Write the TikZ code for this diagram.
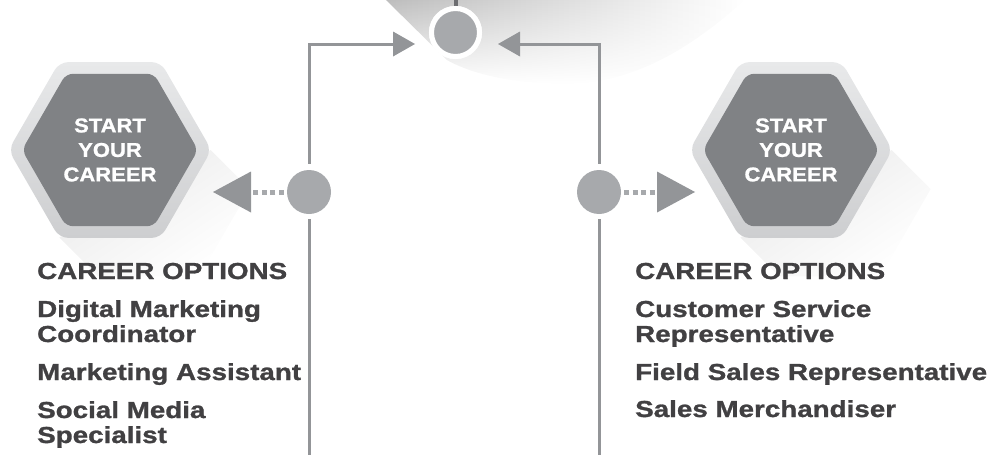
\documentclass[tikz,border=0pt]{standalone}
\usepackage{fontspec}
\setmainfont{Liberation Sans}
\newfontfamily\optfont{Liberation Sans}[FakeStretch=1.2, FakeBold=1.2]
\newfontfamily\hexfont{Liberation Sans}[FakeStretch=1.1, FakeBold=1.0]
\usetikzlibrary{fadings,shapes.geometric,calc}
\definecolor{linegray}{HTML}{939598}
\definecolor{dotgray}{HTML}{A7A9AC}
\definecolor{stubgray}{HTML}{6D6E71}
\definecolor{hexdark}{HTML}{808285}
\definecolor{hexlightA}{HTML}{E8E9EA}
\definecolor{hexlightB}{HTML}{CDCED0}
\definecolor{textgray}{HTML}{414042}
\tikzfading[name=shadowfade, left color=transparent!20, right color=transparent!100]
\tikzfading[name=swooshfade, top color=transparent!0, middle color=transparent!80, bottom color=transparent!100]
\newlength\refw
\begin{document}
\settowidth\refw{\optfont\fontsize{10pt}{12pt}\selectfont\bfseries CAREER OPTIONS}
\pgfmathsetmacro\fsA{10*250/\refw}
\settowidth\refw{\hexfont\fontsize{10pt}{12pt}\selectfont\bfseries CAREER}
\pgfmathsetmacro\fsB{10*93/\refw}
\begin{tikzpicture}[x=1pt,y=-1pt,
  hexouter/.style={regular polygon, regular polygon sides=6, minimum size=203pt, inner sep=0pt,
     rounded corners=9pt, top color=hexlightA, bottom color=hexlightB, draw=none},
  hexinner/.style={regular polygon, regular polygon sides=6, minimum size=176pt, inner sep=0pt,
     rounded corners=7pt, fill=hexdark},
  hextext/.style={text=white, align=center, font=\hexfont\fontsize{\fsB pt}{24.5pt}\selectfont\bfseries, inner sep=0pt},
  opt/.style={anchor=base west, text=textgray, inner sep=0pt, font=\optfont\fontsize{\fsA pt}{25pt}\selectfont\bfseries},
  dotc/.style={circle, fill=dotgray, minimum size=44pt, inner sep=0pt},
  topc/.style={circle, fill=dotgray, draw=white, line width=5pt, minimum size=48pt, inner sep=0pt},
  conn/.style={draw=linegray, line width=3pt},
  dotline/.style={draw=dotgray, line width=5pt, dash pattern=on 5pt off 3.5pt},
  tri/.style={fill=linegray}
]
\useasboundingbox (0,0) rectangle (996,455);

% background swoosh
\shade[left color=black!26, right color=white, path fading=swooshfade]
  (386,0) -- (447,60) .. controls (475,76) and (520,84) .. (565,84)
  .. controls (640,84) and (700,40) .. (745,0) -- cycle;

% hexagon shadows
\fill[black!10, path fading=shadowfade, fading angle=-45]
  (211,150) -- (250,189) -- (199.5,276.5) -- (98.5,276.5) -- (59.5,237.5) -- cycle;
\fill[black!10, path fading=shadowfade, fading angle=-45]
  (892,150) -- (931,189) -- (880.5,276.5) -- (779.5,276.5) -- (740.5,237.5) -- cycle;

% hexagons
\node[hexouter] (LHo) at (110,150) {};
\node[hexinner] (LHi) at (110,150) {};
\node[hextext] (LHt) at (110,150) {START\\YOUR\\CAREER};
\node[hexouter] (RHo) at (791,150) {};
\node[hexinner] (RHi) at (791,150) {};
\node[hextext] (RHt) at (791,150) {START\\YOUR\\CAREER};

% top circle with stub
\coordinate (Ttop) at (455.5,0);
\node[topc] (Tc) at (455.5,32.5) {};
\draw[draw=stubgray, line width=4pt] (Ttop) -- (Tc.north);
\node[topc] at (Tc) {};

% side circles
\node[dotc] (Lc) at (309,192) {};
\node[dotc] (Rc) at (599,192) {};

% arrows into the top circle
\coordinate (LAb) at (393,44);
\coordinate (LAt) at (415,44);
\coordinate (RAb) at (520,44);
\coordinate (RAt) at (498,44);
\draw[conn] ([yshift=6pt]Lc.north) |- (LAb);
\draw[conn] ([yshift=6pt]Rc.north) |- (RAb);
\fill[tri] (LAt) -- ($(LAb)+(0,-12.5)$) -- ($(LAb)+(0,12.5)$) -- cycle;
\fill[tri] (RAt) -- ($(RAb)+(0,-12.5)$) -- ($(RAb)+(0,12.5)$) -- cycle;

% lines down
\coordinate (Lend) at (309,455);
\coordinate (Rend) at (599,455);
\draw[conn] ([yshift=-5pt]Lc.south) -- (Lend);
\draw[conn] ([yshift=-5pt]Rc.south) -- (Rend);

% dotted arrows to hexagons
\coordinate (LDb) at (251,192);
\coordinate (LDt) at (213,192);
\coordinate (RDb) at (657,192);
\coordinate (RDt) at (695,192);
\draw[dotline] ([xshift=-3pt]Lc.west) -- (LDb);
\draw[dotline] ([xshift=3pt]Rc.east) -- (RDb);
\fill[tri] (LDt) -- ($(LDb)+(0,-20.5)$) -- ($(LDb)+(0,20.5)$) -- cycle;
\fill[tri] (RDt) -- ($(RDb)+(0,-20.5)$) -- ($(RDb)+(0,20.5)$) -- cycle;

% career options, left
\node[opt] (L0) at (37,279) {CAREER OPTIONS};
\node[opt] (L1a) at (37,317) {Digital Marketing};
\node[opt] (L1b) at (37,342) {Coordinator};
\node[opt] (L2) at (37,380) {Marketing Assistant};
\node[opt] (L3a) at (37,418) {Social Media};
\node[opt] (L3b) at (37,443) {Specialist};

% career options, right
\node[opt] (R0) at (635,279) {CAREER OPTIONS};
\node[opt] (R1a) at (635,317) {Customer Service};
\node[opt] (R1b) at (635,342) {Representative};
\node[opt] (R2) at (635,380) {Field Sales Representative};
\node[opt] (R3) at (635,417) {Sales Merchandiser};
\end{tikzpicture}
\end{document}
